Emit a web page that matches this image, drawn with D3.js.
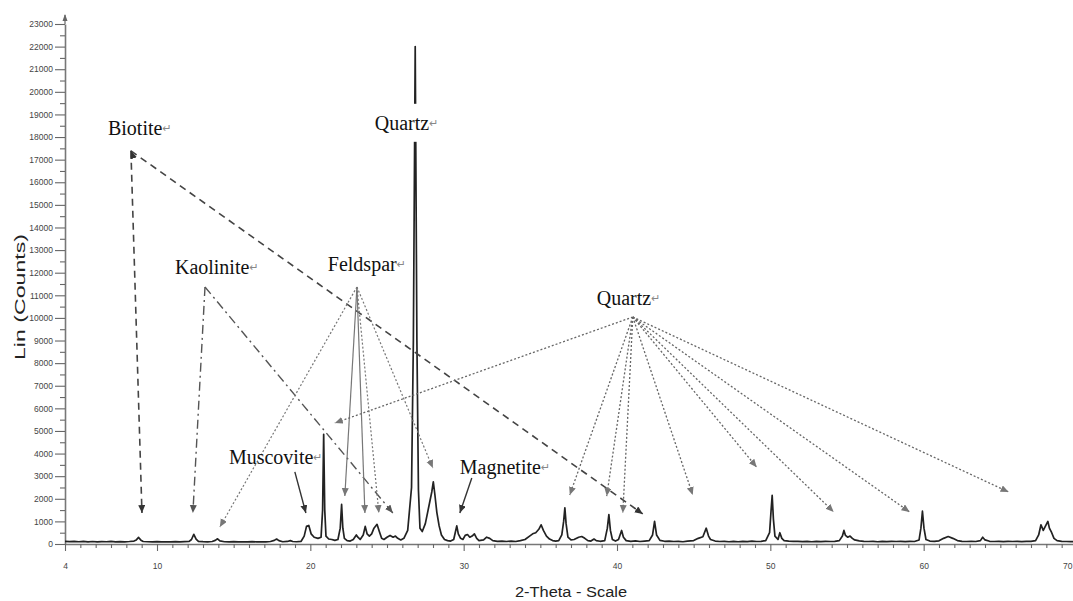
<!DOCTYPE html>
<html>
<head>
<meta charset="utf-8">
<script src="https://cdn.jsdelivr.net/npm/d3@7/dist/d3.min.js"></script>
<style>
body { margin: 0; background: #fff; }
svg { display: block; }
</style>
</head>
<body>
<svg width="1073" height="601"></svg>
<script>
// diffraction scan: [2-theta, counts]
var scan = [
  [4.0,120],[4.3,105],[4.6,118],[4.9,100],[5.2,112],[5.5,98],[5.8,110],[6.1,95],[6.4,108],[6.7,100],
  [7.0,112],[7.3,96],[7.6,105],[7.9,98],[8.2,110],[8.5,130],[8.65,180],[8.8,290],[8.95,170],[9.1,110],
  [9.4,100],[9.7,92],[10.0,105],[10.3,95],[10.6,100],[10.9,90],[11.2,102],[11.5,95],[11.8,105],[12.1,115],
  [12.25,200],[12.4,430],[12.55,220],[12.7,120],[13.0,105],[13.3,98],[13.6,110],[13.8,160],[13.95,230],[14.1,140],
  [14.4,100],[14.7,95],[15.0,108],[15.3,92],[15.6,100],[15.9,95],[16.2,105],[16.5,90],[16.8,98],[17.1,92],
  [17.4,110],[17.65,160],[17.8,220],[17.95,150],[18.2,100],[18.5,112],[18.7,150],[18.85,110],[19.1,100],[19.4,120],
  [19.6,350],[19.75,780],[19.9,820],[20.05,450],[20.25,300],[20.5,250],[20.7,300],[20.8,1500],[20.87,4850],[20.94,1500],
  [21.02,350],[21.2,220],[21.4,200],[21.6,160],[21.8,200],[21.95,700],[22.04,1750],[22.12,700],[22.22,250],[22.4,150],
  [22.6,130],[22.8,200],[23.0,400],[23.1,300],[23.25,200],[23.45,400],[23.58,780],[23.7,450],[23.85,350],[24.0,450],
  [24.15,700],[24.35,870],[24.5,550],[24.65,250],[24.8,200],[25.0,300],[25.2,380],[25.4,300],[25.55,350],[25.7,250],
  [25.9,180],[26.1,250],[26.35,600],[26.6,2500],[26.72,9000],[26.84,22000],[26.95,9000],[27.05,2400],[27.15,700],[27.3,550],
  [27.5,900],[27.65,1400],[27.8,1900],[27.92,2300],[28.02,2750],[28.12,2200],[28.25,1400],[28.4,800],[28.55,400],[28.75,200],
  [28.95,150],[29.15,130],[29.35,200],[29.45,500],[29.55,800],[29.65,450],[29.8,250],[29.95,200],[30.1,380],[30.25,420],
  [30.4,300],[30.55,350],[30.7,450],[30.85,250],[31.0,150],[31.3,180],[31.5,300],[31.7,250],[31.9,150],[32.2,120],
  [32.5,130],[32.8,110],[33.1,130],[33.4,110],[33.7,150],[34.0,200],[34.3,350],[34.5,450],[34.7,500],[34.9,650],
  [35.05,850],[35.2,600],[35.4,350],[35.6,220],[35.8,150],[36.0,130],[36.2,150],[36.4,400],[36.52,1000],[36.6,1600],
  [36.68,900],[36.8,300],[37.0,180],[37.2,200],[37.5,300],[37.7,330],[37.9,250],[38.1,150],[38.3,130],[38.5,220],
  [38.65,150],[38.9,120],[39.2,150],[39.37,700],[39.47,1300],[39.57,600],[39.7,200],[39.9,130],[40.1,200],[40.3,600],
  [40.42,300],[40.6,150],[40.9,120],[41.2,140],[41.5,110],[41.8,130],[42.1,150],[42.32,400],[42.45,1000],[42.58,400],
  [42.8,160],[43.1,120],[43.4,130],[43.7,110],[44.0,120],[44.3,100],[44.6,130],[45.0,150],[45.3,250],[45.6,320],
  [45.82,700],[45.97,350],[46.1,200],[46.4,130],[46.7,110],[47.0,120],[47.3,100],[47.6,115],[47.9,100],[48.2,120],
  [48.5,105],[48.8,130],[49.1,110],[49.4,120],[49.7,150],[49.95,500],[50.05,1500],[50.12,2150],[50.2,1100],[50.3,350],
  [50.5,200],[50.62,500],[50.75,250],[50.9,150],[51.2,130],[51.5,115],[51.8,120],[52.1,105],[52.4,115],[52.7,100],
  [53.0,120],[53.3,105],[53.6,115],[53.9,110],[54.2,120],[54.5,150],[54.7,350],[54.8,600],[54.9,380],[55.05,300],
  [55.2,350],[55.35,250],[55.5,180],[55.8,140],[56.1,120],[56.4,110],[56.7,120],[57.0,100],[57.3,115],[57.6,105],
  [57.9,120],[58.2,110],[58.5,115],[58.8,105],[59.1,120],[59.4,110],[59.7,180],[59.82,700],[59.92,1450],[60.02,700],
  [60.15,200],[60.4,130],[60.7,120],[61.0,140],[61.3,250],[61.6,330],[61.9,250],[62.2,150],[62.5,120],[62.8,110],
  [63.1,120],[63.4,110],[63.7,150],[63.85,300],[64.0,180],[64.3,120],[64.6,110],[64.9,120],[65.2,105],[65.5,115],
  [65.8,110],[66.1,120],[66.4,105],[66.7,115],[67.0,120],[67.3,150],[67.5,400],[67.65,850],[67.8,600],[67.95,800],
  [68.1,1000],[68.2,700],[68.35,500],[68.5,250],[68.7,150],[69.0,120],[69.3,110],[69.6,105],[69.9,110],[70.0,112]
];

var xLabelTicks = [4, 10, 20, 30, 40, 50, 60, 70];
var yLabelTicks = d3.range(0, 23001, 1000);

// mineral labels: [text, 2-theta, counts] at text baseline start; last flag = blank out what is behind
var minerals = [
  ['Biotite', 6.8, 18100, false],
  ['Kaolinite', 11.17, 11950, false],
  ['Feldspar', 21.14, 12080, false],
  ['Quartz', 24.2, 18320, true],
  ['Quartz', 38.68, 10575, false],
  ['Muscovite', 14.69, 3540, false],
  ['Magnetite', 29.75, 3100, false]
];

// arrows: [from 2-theta, from counts, to 2-theta, to counts, style]
var biotiteArrows = [
  [8.3, 17390, 9.02, 1370],
  [8.3, 17390, 41.68, 1330]
];
var kaoliniteArrows = [
  [13.13, 11370, 12.34, 1370],
  [13.13, 11370, 25.38, 1370]
];
var feldsparArrows = [
  [23.04, 11370, 14.1, 750, 'dot'],
  [23.04, 11370, 22.25, 2120, 'solid'],
  [23.04, 11370, 23.56, 1370, 'solid'],
  [23.04, 11370, 24.47, 1370, 'dot'],
  [23.04, 11370, 27.99, 3360, 'dot']
];
var quartzArrows = [
  [41.03, 10040, 21.6, 5350],
  [41.03, 10040, 36.92, 2170],
  [41.03, 10040, 39.33, 2120],
  [41.03, 10040, 40.38, 1370],
  [41.03, 10040, 44.94, 2170],
  [41.03, 10040, 49.11, 3400],
  [41.03, 10040, 54.13, 1420],
  [41.03, 10040, 59.08, 1420],
  [41.03, 10040, 65.54, 2300]
];
var solidArrows = [
  [18.99, 3190, 19.71, 1370],
  [30.53, 2920, 29.75, 1370]
];

var svg = d3.select('svg');
var x = d3.scaleLinear().domain([4, 70]).range([65, 1077]);
var y = d3.scaleLinear().domain([0, 23000]).range([544, 24]);

// arrowhead markers
var defs = svg.append('defs');
[['headDark', '#333'], ['headGrey', '#555'], ['headLight', '#777']].forEach(function(m) {
    defs.append('marker')
        .attr('id', m[0])
        .attr('markerUnits', 'userSpaceOnUse')
        .attr('markerWidth', 9)
        .attr('markerHeight', 8)
        .attr('refX', 8)
        .attr('refY', 3.5)
        .attr('orient', 'auto')
        .append('path')
            .attr('d', 'M0,0 L8,3.5 L0,7 Z')
            .attr('fill', m[1]);
});

// y axis
svg.append('g')
    .attr('transform', 'translate(' + x(4) + ',0)')
    .call(d3.axisLeft(y).tickValues(yLabelTicks).tickSize(10).tickSizeOuter(0)
        .tickPadding(2).tickFormat(d3.format('d')));
svg.append('g')
    .attr('transform', 'translate(' + x(4) + ',0)')
    .call(d3.axisLeft(y).tickValues(d3.range(500, 23000, 1000)).tickSize(5).tickSizeOuter(0).tickFormat(''))
    .select('.domain').remove();
svg.append('line')
    .attr('x1', x(4)).attr('x2', x(4))
    .attr('y1', y(23000)).attr('y2', 15)
    .attr('stroke', '#666').attr('stroke-width', 1.2);
svg.append('path')
    .attr('d', 'M' + (x(4) - 2.5) + ',21 L' + x(4) + ',14 L' + (x(4) + 2.5) + ',21 Z')
    .attr('fill', '#666');

// x axis
var xAxis = svg.append('g')
    .attr('transform', 'translate(0,' + y(0) + ')')
    .call(d3.axisBottom(x).tickValues(xLabelTicks).tickSize(7).tickSizeOuter(0)
        .tickPadding(12).tickFormat(d3.format('d')));
// last label sits at the very edge of the picture
xAxis.selectAll('.tick text')
    .filter(function(d) { return d == 70; })
    .attr('text-anchor', 'end')
    .attr('dx', -5);
svg.append('g')
    .attr('transform', 'translate(0,' + y(0) + ')')
    .call(d3.axisBottom(x).tickValues(d3.range(5, 70).filter(function(d) { return d % 10 != 0; }))
        .tickSize(4).tickSizeOuter(0).tickFormat(''))
    .select('.domain').remove();

svg.selectAll('.tick line').attr('stroke', '#666').attr('stroke-width', 1.1);
svg.selectAll('.domain').attr('stroke', '#777').attr('stroke-width', 1.6);
svg.selectAll('.tick text')
    .attr('fill', '#444')
    .style('font-family', 'Liberation Sans, Arial, sans-serif')
    .style('font-size', '8.5px');

// axis titles
svg.append('text')
    .attr('transform', 'translate(25,297) rotate(-90)')
    .attr('text-anchor', 'middle')
    .attr('textLength', 126)
    .attr('lengthAdjust', 'spacingAndGlyphs')
    .style('font-family', 'Liberation Sans, Arial, sans-serif')
    .style('font-size', '14px')
    .attr('fill', '#222')
    .text('Lin (Counts)');
svg.append('text')
    .attr('x', 571).attr('y', 597)
    .attr('text-anchor', 'middle')
    .attr('textLength', 112)
    .attr('lengthAdjust', 'spacingAndGlyphs')
    .style('font-family', 'Liberation Sans, Arial, sans-serif')
    .style('font-size', '14px')
    .attr('fill', '#222')
    .text('2-Theta - Scale');

// the scan trace
var line = d3.line()
    .x(function(d) { return x(d[0]); })
    .y(function(d) { return y(d[1]); });
svg.append('path')
    .datum(scan)
    .attr('d', line)
    .attr('fill', 'none')
    .attr('stroke', '#222')
    .attr('stroke-width', 1.7)
    .attr('stroke-linejoin', 'round');

// annotation arrows
function drawArrows(list, colour, width, dash, head) {
    svg.append('g').selectAll('line')
        .data(list)
        .enter()
        .append('line')
            .attr('x1', function(d) { return x(d[0]); })
            .attr('y1', function(d) { return y(d[1]); })
            .attr('x2', function(d) { return x(d[2]); })
            .attr('y2', function(d) { return y(d[3]); })
            .attr('stroke', colour)
            .attr('stroke-width', width)
            .attr('stroke-dasharray', function(d) {
                if (d[4] == 'solid') return null;
                if (d[4] == 'dot') return '2,2';
                return dash;
            })
            .attr('marker-end', 'url(#' + head + ')');
}
drawArrows(biotiteArrows, '#444', 1.6, '7,5', 'headDark');
drawArrows(kaoliniteArrows, '#555', 1.4, '9,4,2,4', 'headGrey');
drawArrows(feldsparArrows, '#777', 1.2, '2,2', 'headLight');
drawArrows(quartzArrows, '#666', 1.3, '2,2', 'headLight');
drawArrows(solidArrows, '#333', 1.4, null, 'headDark');

// little head at the biotite origin
svg.append('line')
    .attr('x1', x(8.45)).attr('y1', y(17100))
    .attr('x2', x(8.3)).attr('y2', y(17390))
    .attr('stroke', '#444')
    .attr('marker-end', 'url(#headDark)');

// mineral labels
var labels = svg.append('g').selectAll('g')
    .data(minerals)
    .enter()
    .append('g');
labels.filter(function(d) { return d[3]; })
    .append('rect').attr('fill', '#fff');
var texts = labels.append('text')
    .attr('x', function(d) { return x(d[1]); })
    .attr('y', function(d) { return y(d[2]); })
    .style('font-family', 'Liberation Serif, Times New Roman, serif')
    .style('font-size', '20px')
    .attr('fill', '#111')
    .text(function(d) { return d[0]; });
texts.append('tspan')
    .style('font-family', 'DejaVu Sans, sans-serif')
    .style('font-size', '11px')
    .attr('fill', '#888')
    .attr('dy', -3)
    .text('\u21b5');
labels.filter(function(d) { return d[3]; }).each(function() {
    var g = d3.select(this);
    var b = g.select('text').node().getBBox();
    g.select('rect')
        .attr('x', b.x - 2).attr('y', b.y - 8)
        .attr('width', b.width + 4).attr('height', b.height + 16);
});
</script>
</body>
</html>
